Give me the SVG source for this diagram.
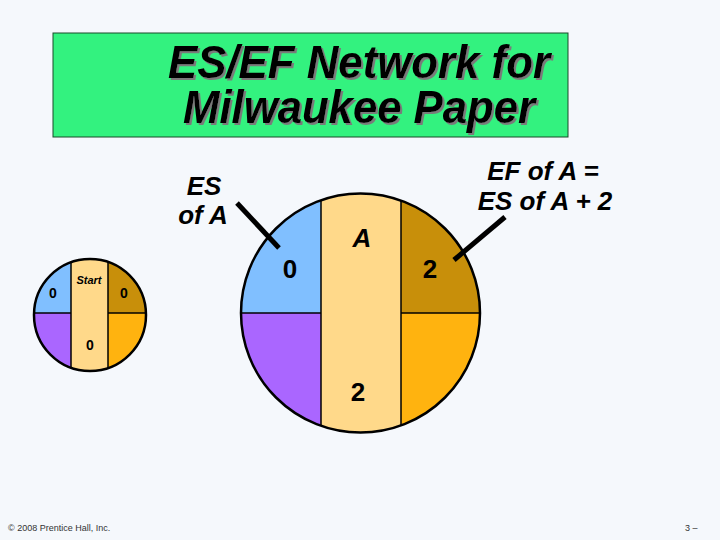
<svg xmlns="http://www.w3.org/2000/svg" width="720" height="540" viewBox="0 0 720 540">
<defs>
<style>
.bg{fill:#f5f8fc}
.title{font-family:"Liberation Sans",Arial,sans-serif;font-weight:bold;font-style:italic;font-size:47px;text-anchor:middle;fill:#000}
.lbl{font-family:"Liberation Sans",Arial,sans-serif;font-weight:bold;font-style:italic;font-size:26px;text-anchor:middle;fill:#000}
.num{font-family:"Liberation Sans",Arial,sans-serif;font-weight:bold;font-size:26px;text-anchor:middle;fill:#000}
.nums{font-family:"Liberation Sans",Arial,sans-serif;font-weight:bold;font-size:14px;text-anchor:middle;fill:#000}
.foot{font-family:"Liberation Sans",Arial,sans-serif;font-size:9px;fill:#333}
.div{stroke:#000;stroke-width:1.5;fill:none}
.ring{stroke:#000;stroke-width:2.5;fill:none}
.ptr{stroke:#000;stroke-width:5;fill:none}
.q1{fill:#80bfff}.q2{fill:#aa66ff}.q3{fill:#ffd98a}.q4{fill:#c88f0a}.q5{fill:#ffb30f}
</style>
<filter id="shadow" x="-10%" y="-20%" width="120%" height="150%">
<feDropShadow dx="2" dy="2" stdDeviation="0" flood-color="#7a7a7a" flood-opacity="1"/>
</filter>
<clipPath id="cbig"><circle cx="360.5" cy="313" r="119.5"/></clipPath>
<clipPath id="csmall"><circle cx="90" cy="315" r="56"/></clipPath>
</defs>
<rect class="bg" x="0" y="0" width="720" height="540"/>
<g id="title">
<rect x="53" y="33" width="515" height="104" fill="#33f27f" stroke="#1a4a2a" stroke-width="1"/>
<g filter="url(#shadow)">
<text class="title" x="359" y="78" textLength="382" lengthAdjust="spacingAndGlyphs">ES/EF Network for</text>
<text class="title" x="359" y="123" textLength="352" lengthAdjust="spacingAndGlyphs">Milwaukee Paper</text>
</g>
</g>
<g id="start">
<g clip-path="url(#csmall)">
<rect class="q1" x="30" y="255" width="41" height="58"/>
<rect class="q2" x="30" y="313" width="41" height="60"/>
<rect class="q3" x="71" y="255" width="37" height="118"/>
<rect class="q4" x="108" y="255" width="42" height="58"/>
<rect class="q5" x="108" y="313" width="42" height="60"/>
<line class="div" x1="30" y1="313" x2="71" y2="313"/>
<line class="div" x1="108" y1="313" x2="150" y2="313"/>
<line class="div" x1="71" y1="255" x2="71" y2="375"/>
<line class="div" x1="108" y1="255" x2="108" y2="375"/>
</g>
<circle class="ring" cx="90" cy="315" r="56"/>
<text x="89" y="284" font-family="Liberation Sans,Arial,sans-serif" font-weight="bold" font-style="italic" font-size="11" text-anchor="middle">Start</text>
<text class="nums" x="53" y="298">0</text>
<text class="nums" x="124" y="298">0</text>
<text class="nums" x="90" y="350">0</text>
</g>
<g id="nodeA">
<g clip-path="url(#cbig)">
<rect class="q1" x="240" y="192" width="81" height="121"/>
<rect class="q2" x="240" y="313" width="81" height="122"/>
<rect class="q3" x="321" y="192" width="80" height="243"/>
<rect class="q4" x="401" y="192" width="81" height="121"/>
<rect class="q5" x="401" y="313" width="81" height="122"/>
<line class="div" x1="240" y1="313" x2="321" y2="313"/>
<line class="div" x1="401" y1="313" x2="482" y2="313"/>
<line class="div" x1="321" y1="192" x2="321" y2="435"/>
<line class="div" x1="401" y1="192" x2="401" y2="435"/>
</g>
<circle class="ring" cx="360.5" cy="313" r="119.5"/>
<text class="lbl" x="362" y="247">A</text>
<text class="num" x="290" y="278">0</text>
<text class="num" x="430" y="278">2</text>
<text class="num" x="358" y="401">2</text>
</g>
<g id="labels">
<text class="lbl" x="204" y="195">ES</text>
<text class="lbl" x="203" y="224">of A</text>
<text class="lbl" x="543" y="180">EF of A =</text>
<text class="lbl" x="545" y="210">ES of A + 2</text>
</g>
<g id="connectors">
<line class="ptr" x1="237" y1="203" x2="279" y2="248"/>
<line class="ptr" x1="505" y1="217" x2="454" y2="260"/>
</g>
<g id="footer">
<text class="foot" x="8" y="531">© 2008 Prentice Hall, Inc.</text>
<text class="foot" x="685" y="531">3 –</text>
</g>
</svg>
